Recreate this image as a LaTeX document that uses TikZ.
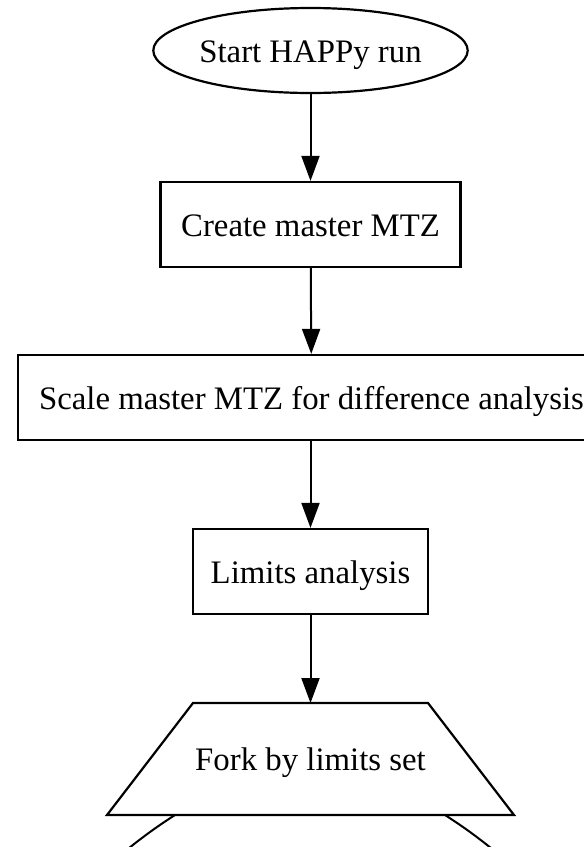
\documentclass[tikz,border=0pt]{standalone}
\usepackage{fontspec}
\setmainfont{Liberation Serif}
\usetikzlibrary{arrows.meta,shapes.geometric}
\begin{document}
\begin{tikzpicture}[x=1pt,y=-1pt,
  every node/.style={font=\fontsize{32.8}{38}\selectfont, inner sep=0pt, line width=2.2pt, text height=26pt, text depth=3pt},
  boxnode/.style={draw, rectangle, minimum height=85pt},
  flow/.style={line width=2pt, -{Triangle[length=25pt,width=18pt]}},
  outline/.style={line width=2.2pt, line join=miter},
  forkedge/.style={line width=2pt}]
\useasboundingbox (0,0) rectangle (584,847);
\clip (0,0) rectangle (584,847);
\node[draw, ellipse, minimum width=288pt, minimum height=85pt] (start) at (310.5,50.5) {Start HAPPy run};
\node[boxnode, minimum width=300pt] (create) at (310.5,224.5) {Create master MTZ};
\node[boxnode, minimum width=587pt] (scale) at (311.5,397.5) {Scale master MTZ for difference analysis};
\node[boxnode, minimum width=235pt] (limits) at (310.5,571.5) {Limits analysis};
\coordinate (tl) at (193,703);
\coordinate (tr) at (428,703);
\coordinate (br) at (514,815);
\coordinate (bl) at (107,815);
\draw[outline, fill=white] (tl) -- (tr) -- (br) -- (bl) -- cycle;
\node (fork) at (310.5,759) {Fork by limits set};
\coordinate (forktop) at (310.5,703);
\coordinate (forkl) at (175,815);
\coordinate (forkr) at (445,815);
\coordinate (childl) at (105,868);
\coordinate (childr) at (515,868);
\draw[flow] (start) -- (create);
\draw[flow] (create) -- (scale);
\draw[flow] (scale.south -| limits) -- (limits);
\draw[flow] (limits) -- (forktop);
\draw[forkedge] (forkl) .. controls (150,831) and (132,845) .. (childl);
\draw[forkedge] (forkr) .. controls (470,831) and (488,845) .. (childr);
\end{tikzpicture}
\end{document}
